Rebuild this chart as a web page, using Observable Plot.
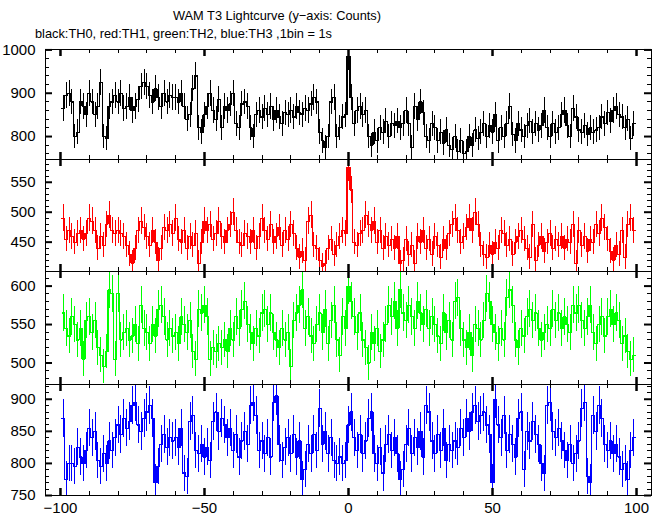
<!DOCTYPE html>
<html>
<head>
<meta charset="utf-8">
<script src="https://cdn.jsdelivr.net/npm/d3@7"></script>
<script src="https://cdn.jsdelivr.net/npm/@observablehq/plot@0.6"></script>
<style>
  html, body { margin: 0; padding: 0; background: #fff; }
  #wrap { position: relative; width: 662px; height: 515px; overflow: hidden; background: #fff;
          font-family: "Liberation Sans", Arial, Helvetica, sans-serif; }
  .ttl { position: absolute; font-size: 12.8px; line-height: 12.8px; white-space: nowrap; color: #000; }
</style>
</head>
<body>
<div id="wrap">
  <div class="ttl" id="title" style="left:0; width:554px; text-align:center; top:10.2px;">WAM T3 Lightcurve (y−axis: Counts)</div>
  <div class="ttl" id="subtitle" style="left:35px; top:28.2px;">black:TH0, red:TH1, green:TH2, blue:TH3 ,1bin = 1s</div>
</div>
<script>
// ---- data (counts per 1 s bin, bin centres -99 .. 99 s) ----
const seconds = d3.range(-99, 100);

const th0 = [
  865, 895, 900, 880, 800, 810, 880, 870, 850,
  900, 880, 850, 870, 925, 800, 795, 870, 880, 895,
  880, 900, 865, 870, 890, 860, 870, 885, 915, 925,
  915, 895, 880, 910, 890, 870, 900, 880, 895, 890,
  890, 880, 900, 870, 840, 850, 910, 940, 820, 810,
  850, 870, 900, 860, 840, 885, 820, 870, 860, 875,
  900, 830, 820, 875, 880, 870, 820, 800, 850, 860,
  845, 865, 850, 870, 840, 860, 845, 830, 855, 850,
  860, 845, 870, 855, 850, 865, 860, 875, 890, 880,
  810, 790, 775, 800, 880, 890, 800, 820, 845, 850,
  985, 890, 830, 860, 870, 850, 860, 800, 780, 810,
  790, 820, 810, 835, 800, 830, 825, 835, 820, 830,
  860, 830, 775, 870, 840, 880, 855, 800, 790, 830,
  820, 790, 810, 785, 815, 780, 770, 800, 765, 790,
  760, 765, 800, 780, 815, 795, 810, 830, 800, 825,
  810, 850, 790, 820, 800, 830, 870, 805, 790, 830,
  815, 800, 825, 835, 810, 830, 815, 825, 860, 820,
  800, 830, 810, 820, 850, 860, 825, 800, 865, 845,
  815, 810, 825, 805, 820, 810, 815, 820, 845, 830,
  855, 835, 860, 870, 850, 845, 820, 840, 795, 830
];

const th1 = [
  490, 455, 470, 460, 450, 465, 470, 455, 465,
  490, 485, 470, 440, 460, 445, 480, 495, 470, 465,
  470, 465, 460, 445, 430, 415, 440, 470, 485, 475,
  460, 445, 470, 450, 420, 440, 475, 470, 480, 465,
  490, 455, 450, 470, 440, 460, 445, 465, 415, 450,
  485, 470, 480, 455, 465, 485, 460, 450, 470, 480,
  500, 470, 450, 445, 465, 460, 450, 470, 440, 460,
  490, 470, 455, 480, 450, 460, 475, 445, 470, 455,
  480, 465, 440, 425, 435, 420, 485, 495, 445, 440,
  420, 410, 415, 440, 455, 430, 445, 460, 470, 465,
  575, 537, 450, 445, 465, 470, 495, 480, 470, 485,
  450, 470, 440, 460, 445, 455, 440, 460, 415, 420,
  455, 430, 445, 415, 460, 450, 470, 440, 455, 430,
  460, 445, 425, 455, 440, 465, 480, 490, 470, 450,
  460, 475, 490, 470, 500, 480, 445, 430, 425, 445,
  430, 450, 440, 470, 465, 445, 455, 430, 450, 460,
  470, 455, 440, 425, 480, 420, 445, 460, 435, 450,
  465, 440, 455, 445, 460, 440, 455, 450, 480, 415,
  470, 445, 460, 435, 455, 450, 480, 465, 490, 475,
  455, 435, 420, 445, 430, 470, 425, 480, 490, 470
];

const th2 = [
  565, 545, 535, 560, 550, 530, 545, 505, 555,
  560, 540, 555, 520, 510, 495, 515, 595, 590, 505,
  590, 530, 540, 545, 530, 535, 550, 525, 575, 545,
  540, 525, 550, 535, 570, 575, 560, 530, 545, 535,
  540, 525, 560, 550, 540, 555, 515, 505, 570, 565,
  575, 560, 505, 520, 515, 525, 520, 530, 515, 545,
  530, 560, 545, 570, 580, 550, 540, 525, 545, 535,
  565, 570, 550, 565, 540, 530, 520, 545, 530, 540,
  495, 555, 565, 575, 595, 545, 560, 535, 525, 550,
  565, 540, 570, 525, 555, 575, 530, 510, 560, 545,
  600, 580, 560, 540, 565, 530, 520, 500, 540, 525,
  545, 515, 530, 550, 575, 560, 580, 545, 595, 565,
  555, 575, 560, 545, 580, 565, 550, 570, 545, 560,
  550, 535, 525, 565, 540, 555, 530, 580, 585, 545,
  530, 520, 540, 510, 550, 545, 530, 555, 590, 580,
  550, 540, 525, 545, 530, 585, 595, 575, 530, 520,
  545, 535, 560, 570, 555, 565, 545, 530, 540, 550,
  545, 570, 555, 565, 545, 560, 550, 540, 575, 565,
  575, 555, 545, 560, 575, 540, 525, 550, 560, 535,
  560, 570, 550, 565, 555, 525, 535, 515, 505, 510
];

const th3 = [
  870, 775, 800, 800, 795, 825, 810, 800, 820,
  855, 840, 850, 805, 795, 815, 800, 835, 820, 840,
  860, 845, 870, 855, 865, 890, 895, 860, 850, 870,
  880, 890, 870, 770, 795, 830, 845, 825, 840, 835,
  840, 825, 855, 785, 780, 865, 875, 820, 815, 830,
  810, 825, 805, 865, 880, 850, 870, 860, 840, 855,
  820, 845, 810, 835, 850, 830, 890, 895, 875, 820,
  835, 815, 840, 810, 895, 905, 830, 805, 825, 840,
  815, 845, 810, 835, 775, 790, 830, 815, 845, 820,
  885, 830, 850, 815, 840, 805, 800, 810, 800, 805,
  860, 880, 840, 820, 845, 815, 835, 870, 880, 815,
  800, 825, 785, 830, 845, 820, 840, 815, 775, 790,
  830, 855, 815, 840, 825, 850, 810, 890, 880, 835,
  815, 845, 820, 855, 805, 830, 820, 835, 825, 855,
  840, 870, 850, 880, 890, 865, 875, 880, 860, 845,
  770, 900, 860, 840, 875, 820, 845, 830, 810, 870,
  880, 790, 850, 835, 865, 845, 830, 800, 785, 890,
  895, 850, 840, 855, 835, 820, 805, 830, 800, 815,
  835, 885, 895, 780, 770, 875, 850, 890, 870, 830,
  820, 835, 815, 830, 810, 790, 800, 775, 820, 840
];

// axis tick values
const xMajorTicks = [-100, -50, 0, 50, 100];
const xMinorTicks = [-90, -80, -70, -60, -40, -30, -20, -10, 10, 20, 30, 40, 60, 70, 80, 90];

const panels = [
  {name: "TH0", values: th0, color: "#000000", top: 49, bottom: 159, domain: [747, 1001],
   major: [800, 900, 1000], minor: [760, 780, 820, 840, 860, 880, 920, 940, 960, 980]},
  {name: "TH1", values: th1, color: "#ff0000", top: 159, bottom: 271, domain: [401, 588],
   major: [450, 500, 550], minor: [410, 420, 430, 440, 460, 470, 480, 490, 510, 520, 530, 540, 560, 570, 580]},
  {name: "TH2", values: th2, color: "#00ff00", top: 271, bottom: 384, domain: [472, 619],
   major: [500, 550, 600], minor: [480, 490, 510, 520, 530, 540, 560, 570, 580, 590, 610]},
  {name: "TH3", values: th3, color: "#0000ff", top: 384, bottom: 495, domain: [750, 923],
   major: [750, 800, 850, 900], minor: [760, 770, 780, 790, 810, 820, 830, 840, 860, 870, 880, 890, 910, 920]}
];

const W = 662, ML = 45, MR = 11;
const xDomain = [-105.2, 105.2];
const iw = W - ML - MR;
const fmtX = d => d < 0 ? "\u2212" + (-d) : String(d);
const wrap = document.getElementById("wrap");

panels.forEach((p, k) => {
  const last = k === panels.length - 1;
  const ih = p.bottom - p.top;
  const mb = last ? 22 : 0;
  const rows = seconds.map((t, i) => ({t, v: p.values[i]}));
  const steps = rows.map(d => ({x: d.t - 0.5, y: d.v}));
  steps.push({x: rows[rows.length - 1].t + 0.5, y: rows[rows.length - 1].v});

  const svg = Plot.plot({
    width: W,
    height: ih + mb,
    marginLeft: ML,
    marginRight: MR,
    marginTop: 0,
    marginBottom: mb,
    style: {background: "transparent", overflow: "visible", fontFamily: "'Liberation Sans', Arial, Helvetica, sans-serif", fontSize: "15px", color: "#000"},
    x: last
      ? {domain: xDomain, ticks: xMajorTicks, tickSize: 0, tickPadding: 7, tickFormat: fmtX, label: null}
      : {domain: xDomain, axis: null},
    y: {domain: p.domain, ticks: p.major, tickSize: 0, tickPadding: 10, tickFormat: d => String(d), label: null},
    marks: [
      // error bars (Poisson, sqrt of counts)
      Plot.ruleX(rows, {x: "t", y1: d => d.v - Math.sqrt(d.v), y2: d => d.v + Math.sqrt(d.v), stroke: p.color, strokeWidth: 1, clip: true, shapeRendering: "crispEdges"}),
      // histogram steps
      Plot.line(steps, {x: "x", y: "y", curve: "step-after", stroke: p.color, strokeWidth: 1.2, clip: true, shapeRendering: "crispEdges"}),
      // inward ticks: x at top and bottom
      Plot.ruleX(xMajorTicks, {stroke: "#000", strokeWidth: 2.5, insetBottom: ih - 7}),
      Plot.ruleX(xMajorTicks, {stroke: "#000", strokeWidth: 2.5, insetTop: ih - 7}),
      Plot.ruleX(xMinorTicks, {stroke: "#000", strokeWidth: 1, insetBottom: ih - 4, shapeRendering: "crispEdges"}),
      Plot.ruleX(xMinorTicks, {stroke: "#000", strokeWidth: 1, insetTop: ih - 4, shapeRendering: "crispEdges"}),
      // inward ticks: y at left and right
      Plot.ruleY(p.major, {stroke: "#000", strokeWidth: 2, insetRight: iw - 7}),
      Plot.ruleY(p.major, {stroke: "#000", strokeWidth: 2, insetLeft: iw - 7}),
      Plot.ruleY(p.minor, {stroke: "#000", strokeWidth: 1, insetRight: iw - 4, shapeRendering: "crispEdges"}),
      Plot.ruleY(p.minor, {stroke: "#000", strokeWidth: 1, insetLeft: iw - 4, shapeRendering: "crispEdges"}),
      Plot.frame({stroke: "#000", strokeWidth: 1.2, shapeRendering: "crispEdges"})
    ]
  });
  svg.style.position = "absolute";
  svg.style.left = "0px";
  svg.style.top = p.top + "px";
  wrap.appendChild(svg);
});
</script>
</body>
</html>
